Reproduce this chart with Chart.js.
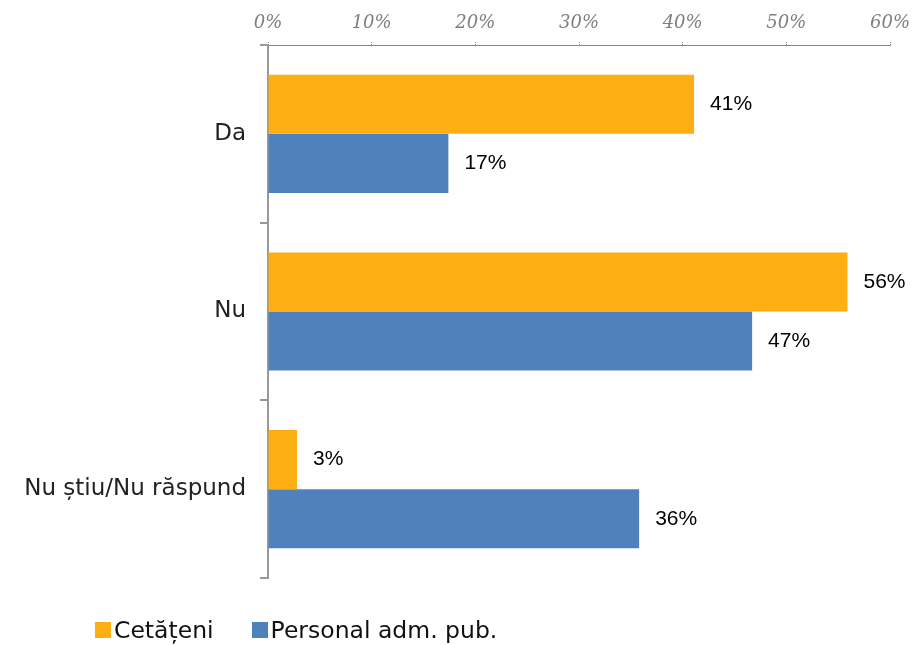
<!DOCTYPE html>
<html>
<head>
<meta charset="utf-8">
<script src="https://cdn.jsdelivr.net/npm/chart.js@4"></script>
<style>
  html, body { margin: 0; padding: 0; background: #fff; }
  #wrap { position: relative; width: 912px; height: 645px; }
  #legend { position: absolute; left: 95px; top: 615px; display: flex; font-family: "DejaVu Sans", sans-serif; font-size: 23.5px; color: #111; line-height: 30px; }
  #legend span.item { display: flex; align-items: center; margin-right: 38px; }
  #legend span.box { width: 16px; height: 16px; margin-right: 3px; display: inline-block; }
</style>
</head>
<body>
<div id="wrap">
  <canvas id="chart" width="912" height="645"></canvas>
  <div id="legend"></div>
</div>
<script>
const categories = ['Da', 'Nu', 'Nu știu/Nu răspund'];
const seriesNames = ['Cetățeni', 'Personal adm. pub.'];
const cetateni = [41.1, 55.9, 2.8];
const personal = [17.4, 46.7, 35.8];
const seriesColors = ['#FDAE12', '#4F81BD'];
const tickValues = [0, 10, 20, 30, 40, 50, 60];

const valueLabels = {
    id: 'valueLabels',
    afterDatasetsDraw(chart) {
        const ctx = chart.ctx;
        ctx.save();
        ctx.font = '21px "Liberation Sans", sans-serif';
        ctx.fillStyle = '#000';
        ctx.textBaseline = 'middle';
        chart.data.datasets.forEach((ds, i) => {
            chart.getDatasetMeta(i).data.forEach((bar, j) => {
                ctx.fillText(Math.round(ds.data[j]) + '%', bar.x + 16, bar.y);
            });
        });
        ctx.restore();
    }
};

const canvas = document.getElementById('chart');
const chart = new Chart(canvas, {
    type: 'bar',
    data: {
        labels: categories,
        datasets: [
            { label: seriesNames[0], data: cetateni, backgroundColor: seriesColors[0] },
            { label: seriesNames[1], data: personal, backgroundColor: seriesColors[1] }
        ]
    },
    options: {
        indexAxis: 'y',
        responsive: false,
        animation: false,
        layout: { padding: { left: 0, right: 0, top: 0, bottom: 67 } },
        datasets: { bar: { barPercentage: 1, categoryPercentage: 0.665 } },
        scales: {
            x: {
                position: 'top',
                min: 0,
                max: 60,
                afterBuildTicks: s => { s.ticks = tickValues.map(v => ({ value: v })); },
                ticks: {
                    callback: v => v + '%',
                    color: '#7f7f7f',
                    padding: 8,
                    font: { family: '"DejaVu Serif", serif', style: 'italic', size: 18 }
                },
                grid: { drawOnChartArea: false, drawTicks: true, tickLength: 3, color: '#888', tickBorderDash: [1, 1] },
                border: { display: true, color: '#888', dash: [1, 2], width: 1 },
                afterFit: s => { s.height = 45; s.paddingLeft = 0; s.paddingRight = 22; }
            },
            y: {
                ticks: {
                    color: '#222',
                    padding: 14,
                    font: { family: '"DejaVu Sans", sans-serif', size: 23 }
                },
                grid: { drawOnChartArea: false, drawTicks: true, tickLength: 8, color: '#999', offset: true, lineWidth: 2 },
                border: { display: true, color: '#999', width: 2 },
                afterFit: s => { s.width = 268; }
            }
        },
        plugins: {
            legend: { display: false },
            tooltip: { enabled: false }
        }
    },
    plugins: [valueLabels]
});

const legend = document.getElementById('legend');
seriesNames.forEach((name, i) => {
    const item = document.createElement('span');
    item.className = 'item';
    item.innerHTML = '<span class="box" style="background:' + seriesColors[i] + '"></span>' + name;
    legend.appendChild(item);
});
</script>
</body>
</html>
